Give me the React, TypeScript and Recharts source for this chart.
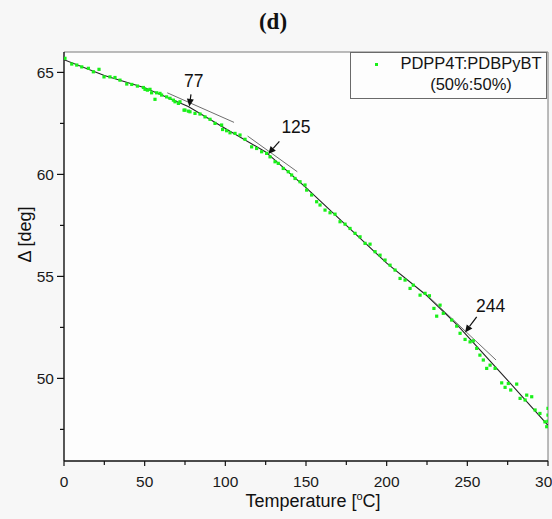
import React from 'react';
import {
  ComposedChart,
  Scatter,
  Line,
  XAxis,
  YAxis,
  ReferenceLine,
  ReferenceDot,
  CartesianGrid,
  Legend,
} from 'recharts';

const FONT = '"Liberation Sans", Arial, Helvetica, sans-serif';
const GREEN = '#19f019';

const chartTitle = '(d)';
const seriesName = 'PDPP4T:PDBPyBT';
const seriesSubtitle = '(50%:50%)';
const xTitle = 'Temperature [';
const yTitle = '\u0394 [deg]';

// measured points: [temperature °C, Δ deg]
const measured: [number, number][] = [
  [0.6, 65.69], [4.8, 65.41], [7.9, 65.36], [11.0, 65.27], [15.1, 65.2], [18.2, 65.03],
  [21.7, 65.15], [24.8, 64.78], [28.5, 64.78], [31.6, 64.75], [34.7, 64.62], [38.9, 64.43],
  [42.0, 64.41], [45.5, 64.33], [49.2, 64.26], [50.2, 64.17], [51.7, 64.13], [53.3, 64.17],
  [54.3, 64.0], [56.4, 63.68], [57.4, 64.0], [59.5, 63.97], [60.5, 63.89], [63.6, 63.8],
  [65.7, 63.73], [67.8, 63.64], [68.8, 63.56], [70.9, 63.48], [71.9, 63.56], [74.4, 63.15],
  [75.0, 63.15], [77.1, 63.1], [78.1, 63.07], [81.2, 62.99], [84.3, 62.96], [87.4, 62.82],
  [90.5, 62.7], [93.6, 62.5], [97.7, 62.42], [98.3, 62.2], [100.8, 62.14], [102.9, 62.04],
  [106.0, 62.01], [109.1, 61.93], [112.2, 61.72], [116.3, 61.35], [119.4, 61.27], [122.5, 61.11],
  [125.6, 61.03], [127.7, 60.86], [130.8, 60.62], [132.8, 60.54], [135.9, 60.29], [139.0, 60.13],
  [141.1, 59.97], [143.2, 59.8], [146.3, 59.64], [149.4, 59.48], [150.4, 59.23], [153.5, 58.99],
  [156.6, 58.66], [158.7, 58.5], [161.8, 58.25], [164.9, 58.12], [168.0, 58.05], [171.1, 57.68],
  [174.2, 57.56], [177.3, 57.35], [180.4, 57.11], [183.5, 56.94], [186.6, 56.62], [189.7, 56.58],
  [192.8, 56.21], [195.9, 56.04], [199.0, 55.8], [202.1, 55.55], [205.2, 55.31], [208.3, 54.9],
  [211.4, 54.82], [214.5, 54.41], [216.5, 54.57], [220.7, 54.08], [223.8, 54.17], [226.5, 54.05],
  [229.3, 53.43], [231.0, 53.05], [233.1, 53.59], [235.1, 53.19], [240.3, 52.86], [243.4, 52.56],
  [245.5, 52.21], [248.6, 51.91], [251.7, 51.79], [253.7, 51.84], [255.8, 51.47], [257.8, 51.14],
  [259.9, 50.9], [262.0, 50.49], [264.1, 50.65], [267.2, 50.49], [271.3, 49.78], [273.4, 49.56],
  [275.4, 49.75], [276.9, 49.43], [280.6, 49.72], [282.7, 49.02], [285.8, 48.94], [286.8, 49.18],
  [289.9, 49.1], [292.0, 48.45], [295.0, 48.28], [298.1, 47.87], [299.2, 47.63], [300, 48.53],
  [300, 48.2], [300, 47.9],
];

// fitted curve
const fitTemp = [0, 25, 50, 77, 100, 125, 150, 175, 200, 225, 244, 275, 300];
const fitDelta = [65.62, 64.85, 64.25, 63.33, 62.25, 61.1, 59.35, 57.5, 55.65, 54.05, 52.6, 49.9, 47.7];

const xTicks = [0, 25, 50, 75, 100, 125, 150, 175, 200, 225, 250, 275, 300];
const yTicks = [47.5, 50, 52.5, 55, 57.5, 60, 62.5, 65];
const xDomain: [number, number] = [0, 300];
const yDomain: [number, number] = [45.95, 66];

// tangent segments near transitions: [[T1, Δ1], [T2, Δ2]]
const tangents: [number, number][][] = [
  [[64.0, 64.0], [105.4, 62.55]],
  [[113.8, 61.88], [144.6, 60.13]],
  [[223.8, 54.17], [267.8, 50.9]],
];

// transition annotations
const transitionLabels = ['77', '125', '244'];
const labelAt: [number, number][] = [[80.4, 64.6], [143.8, 62.33], [264.4, 53.57]];
const arrowTail: [number, number][] = [[78.7, 63.92], [133.5, 61.62], [255.8, 53.02]];
const arrowTip: [number, number][] = [[77.7, 63.33], [126.6, 61.0], [248.6, 52.25]];

const scatterData = measured.map(([T, d]) => ({ T, d }));
const fitData = fitTemp.map((T, i) => ({ T, d: fitDelta[i] }));

const XTick = (props: any) => {
  const { x, y, payload } = props;
  const major = payload.value % 50 === 0;
  return (
    <g>
      <line x1={x} x2={x} y1={y} y2={y + (major ? 5 : 4)} stroke="#111" strokeWidth={1.2} />
      {major && (
        <text x={x} y={y + 26} textAnchor="middle" fontSize={15.5} fontFamily={FONT} fill="#1a1a1a">
          {payload.value}
        </text>
      )}
    </g>
  );
};

const YTick = (props: any) => {
  const { x, y, payload } = props;
  const major = payload.value % 5 === 0;
  return (
    <g>
      <line x1={x - (major ? 7 : 4)} x2={x} y1={y} y2={y} stroke="#111" strokeWidth={1.2} />
      {major && (
        <text x={x - 10} y={y} dy="0.36em" textAnchor="end" fontSize={15.5} fontFamily={FONT} fill="#1a1a1a">
          {payload.value}
        </text>
      )}
    </g>
  );
};

const XTitle = (props: any) => {
  const vb = props.viewBox || { x: 0, y: 0, width: 0 };
  return (
    <text x={vb.x + vb.width / 2 + 7} y={vb.y + 46} textAnchor="middle" fontSize={18} fontFamily={FONT} fill="#111">
      {xTitle}
      <tspan dy={-7} fontSize={11}>o</tspan>
      <tspan dy={7}>C]</tspan>
    </text>
  );
};

const YTitle = (props: any) => {
  const vb = props.viewBox || { x: 0, y: 0, height: 0 };
  const cx = vb.x + 15;
  const cy = vb.y + vb.height / 2 - 22;
  return (
    <text
      x={cx}
      y={cy}
      dy="0.35em"
      textAnchor="middle"
      fontSize={18}
      fontFamily={FONT}
      fill="#111"
      transform={`rotate(-90, ${cx}, ${cy})`}
    >
      {yTitle}
    </text>
  );
};

const LegendBox = (props: any) => {
  const entry = (props.payload || []).find((p: any) => p.value === seriesName) || { value: seriesName, color: GREEN };
  return (
    <div
      style={{
        position: 'relative',
        width: 197,
        height: 47,
        boxSizing: 'border-box',
        border: '1px solid #6a6a6a',
        background: '#fdfdfd',
        fontFamily: FONT,
        fontSize: 16.5,
        lineHeight: '19px',
        color: '#141414',
      }}
    >
      <span
        style={{ position: 'absolute', left: 24, top: 10, width: 3, height: 3, background: entry.color || GREEN }}
      />
      <div style={{ position: 'absolute', left: 44, width: 152, top: 1, textAlign: 'center', whiteSpace: 'nowrap' }}>
        {entry.value}
      </div>
      <div style={{ position: 'absolute', left: 44, width: 152, top: 22, textAlign: 'center', whiteSpace: 'nowrap' }}>
        {seriesSubtitle}
      </div>
    </div>
  );
};

const ArrowShape = (p: any) => {
  const { x1, y1, x2, y2 } = p;
  const dx = x2 - x1;
  const dy = y2 - y1;
  const len = Math.hypot(dx, dy) || 1;
  const ux = dx / len;
  const uy = dy / len;
  const hl = 7.5;
  const hw = 3.5;
  const bx = x2 - ux * hl;
  const by = y2 - uy * hl;
  return (
    <g>
      <line x1={x1} y1={y1} x2={bx} y2={by} stroke="#111" strokeWidth={1.2} />
      <polygon
        points={`${x2},${y2} ${bx - uy * hw},${by + ux * hw} ${bx + uy * hw},${by - ux * hw}`}
        fill="#111"
      />
    </g>
  );
};

const makeLabelShape = (text: string) => (p: any) => (
  <text x={p.cx} y={p.cy} dy="0.36em" textAnchor="middle" fontSize={17.5} fontFamily={FONT} fill="#111">
    {text}
  </text>
);

const DotShape = (p: any) => (
  <rect x={p.cx - 1.6} y={p.cy - 1.6} width={3.2} height={3.2} fill={GREEN} />
);

export default function App() {
  return (
    <div style={{ position: 'absolute', left: 0, top: 0, width: 552, height: 519, background: '#f7f7f7', overflow: 'hidden' }}>
      <div
        style={{
          position: 'absolute',
          top: 9,
          left: 0,
          width: 546,
          textAlign: 'center',
          fontFamily: '"Liberation Serif", "Times New Roman", serif',
          fontWeight: 'bold',
          fontSize: 23,
          lineHeight: '26px',
          color: '#111',
        }}
      >
        {chartTitle}
      </div>
      <ComposedChart width={552} height={519} margin={{ top: 52, right: 4, bottom: 18, left: 10 }}>
        <CartesianGrid horizontal={false} vertical={false} fill="#fdfdfd" />
        <XAxis
          type="number"
          dataKey="T"
          domain={xDomain}
          ticks={xTicks}
          interval={0}
          allowDataOverflow
          tickLine={false}
          tickSize={0}
          tickMargin={0}
          tick={<XTick />}
          axisLine={{ stroke: '#111', strokeWidth: 1.4 }}
          height={40}
          label={<XTitle />}
        />
        <YAxis
          type="number"
          dataKey="d"
          domain={yDomain}
          ticks={yTicks}
          interval={0}
          allowDataOverflow
          tickLine={false}
          tickSize={0}
          tickMargin={0}
          tick={<YTick />}
          axisLine={{ stroke: '#111', strokeWidth: 1.4 }}
          width={54}
          label={<YTitle />}
        />
        <ReferenceLine x={xDomain[1]} stroke="#7a7a7a" strokeWidth={1} />
        <ReferenceLine y={yDomain[1]} stroke="#7a7a7a" strokeWidth={1} />
        <Scatter
          name={seriesName}
          data={scatterData}
          dataKey="d"
          fill={GREEN}
          shape={DotShape}
          isAnimationActive={false}
        />
        <Line
          data={fitData}
          dataKey="d"
          type="linear"
          stroke="#222"
          strokeWidth={1.1}
          dot={false}
          activeDot={false}
          legendType="none"
          isAnimationActive={false}
        />
        {tangents.map((seg, i) => (
          <ReferenceLine
            key={`tan-${i}`}
            segment={[
              { x: seg[0][0], y: seg[0][1] },
              { x: seg[1][0], y: seg[1][1] },
            ]}
            stroke="#6e6e6e"
            strokeWidth={1}
          />
        ))}
        {transitionLabels.map((lab, i) => (
          <ReferenceLine
            key={`arr-${i}`}
            segment={[
              { x: arrowTail[i][0], y: arrowTail[i][1] },
              { x: arrowTip[i][0], y: arrowTip[i][1] },
            ]}
            shape={ArrowShape}
          />
        ))}
        {transitionLabels.map((lab, i) => (
          <ReferenceDot
            key={`lab-${i}`}
            x={labelAt[i][0]}
            y={labelAt[i][1]}
            r={0}
            shape={makeLabelShape(lab)}
          />
        ))}
        <Legend
          layout="horizontal"
          verticalAlign="middle"
          align="center"
          content={<LegendBox />}
          wrapperStyle={{ left: 350, top: 52, width: 197, height: 47 }}
        />
      </ComposedChart>
    </div>
  );
}
